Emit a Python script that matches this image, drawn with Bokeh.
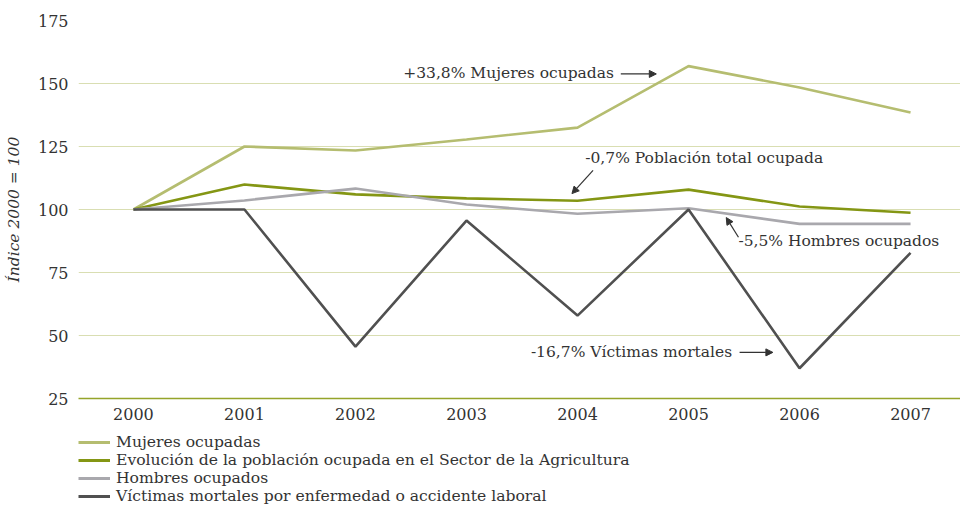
from bokeh.plotting import figure
from bokeh.models import Legend, LegendItem, Arrow, NormalHead, Label, FixedTicker, Range1d
from bokeh.layouts import column
from bokeh.embed import file_html
from bokeh.resources import INLINE

years = [2000, 2001, 2002, 2003, 2004, 2005, 2006, 2007]
mujeres = [100, 125.0, 123.4, 127.8, 132.5, 156.9, 148.4, 138.5]
total = [100, 109.9, 106.0, 104.4, 103.5, 107.9, 101.2, 98.7]
hombres = [100, 103.6, 108.3, 102.0, 98.3, 100.5, 94.3, 94.3]
victimas = [100, 100, 45.6, 95.6, 57.9, 100, 37.0, 82.8]

names = ["Mujeres ocupadas",
         "Evolución de la población ocupada en el Sector de la Agricultura",
         "Hombres ocupados",
         "Víctimas mortales por enfermedad o accidente laboral"]
colors = ["#b5bd70", "#849614", "#a9a8ad", "#505050"]

FONT = "DejaVu Serif"
FS = "15.5px"
TFONT = "DejaVu Serif"
TFS = "16px"
TXT = "#333333"

p = figure(width=960, height=433, output_backend="svg", toolbar_location=None,
           x_range=(1999.505, 2007.45), y_range=(25, 175),
           min_border_left=78, min_border_right=0, min_border_top=20, min_border_bottom=35)
p.outline_line_color = None

series = [mujeres, total, hombres, victimas]
for vals, c in zip(series, colors):
    p.line(years, vals, line_color=c, line_width=2.6)

p.xgrid.grid_line_color = None
p.ygrid.grid_line_color = "#d9deb2"
p.ygrid.grid_line_width = 1.2
p.yaxis.ticker = FixedTicker(ticks=[25, 50, 75, 100, 125, 150, 175])
p.xaxis.ticker = FixedTicker(ticks=years)
for ax in (p.xaxis, p.yaxis):
    ax.major_tick_line_color = None
    ax.minor_tick_line_color = None
    ax.major_tick_out = 0
    ax.minor_tick_out = 0
    ax.major_label_text_font = TFONT
    ax.major_label_text_font_size = TFS
    ax.major_label_text_color = TXT
p.yaxis.axis_line_color = None
p.xaxis.axis_line_color = "#95a42a"
p.xaxis.axis_line_width = 1.5
p.xaxis.major_label_standoff = 9
p.yaxis.major_label_standoff = 10
p.yaxis.axis_label = "Índice 2000 = 100"
p.yaxis.axis_label_text_font = FONT
p.yaxis.axis_label_text_font_style = "italic"
p.yaxis.axis_label_text_font_size = FS
p.yaxis.axis_label_text_color = TXT
p.yaxis.axis_label_standoff = 12

def lab(x, y, t):
    p.add_layout(Label(x=x, y=y, text=t, text_font=FONT, text_font_size=FS,
                       text_color=TXT, text_align="left", text_baseline="middle"))

def arr(x0, y0, x1, y1):
    p.add_layout(Arrow(end=NormalHead(size=7, fill_color=TXT, line_color=TXT),
                       x_start=x0, y_start=y0, x_end=x1, y_end=y1,
                       line_color=TXT, line_width=1.2))

lab(2002.43, 154.0, "+33,8% Mujeres ocupadas")
arr(2004.39, 153.8, 2004.71, 153.8)
lab(2004.07, 120.6, "-0,7% Población total ocupada")
arr(2004.14, 115.5, 2003.95, 106.3)
lab(2005.45, 87.5, "-5,5% Hombres ocupados")
arr(2005.45, 89.0, 2005.34, 96.8)
lab(2003.58, 43.3, "-16,7% Víctimas mortales")
arr(2005.46, 43.3, 2005.76, 43.3)

# legend panel below the chart
lg = figure(width=960, height=72, output_backend="svg", toolbar_location=None,
            x_range=Range1d(0, 1), y_range=Range1d(0, 1),
            x_axis_location=None, y_axis_location=None,
            min_border_left=78, min_border_right=0, min_border_top=0, min_border_bottom=0)
lg.outline_line_color = None
lg.grid.grid_line_color = None
items = []
for n, c in zip(names, colors):
    r = lg.line([-5, -4], [-5, -4], line_color=c, line_width=3)
    items.append(LegendItem(label=n, renderers=[r]))
legend = Legend(items=items, orientation="vertical", location="top_left",
                label_text_font=FONT, label_text_font_size="15.6px", label_text_color=TXT,
                label_height=18, glyph_height=18, glyph_width=32, spacing=0,
                padding=0, margin=0, border_line_color=None, label_standoff=6,
                background_fill_alpha=0)
lg.add_layout(legend)

layout = column(p, lg, spacing=0)
open("out.html", "w").write(file_html(layout, INLINE))
